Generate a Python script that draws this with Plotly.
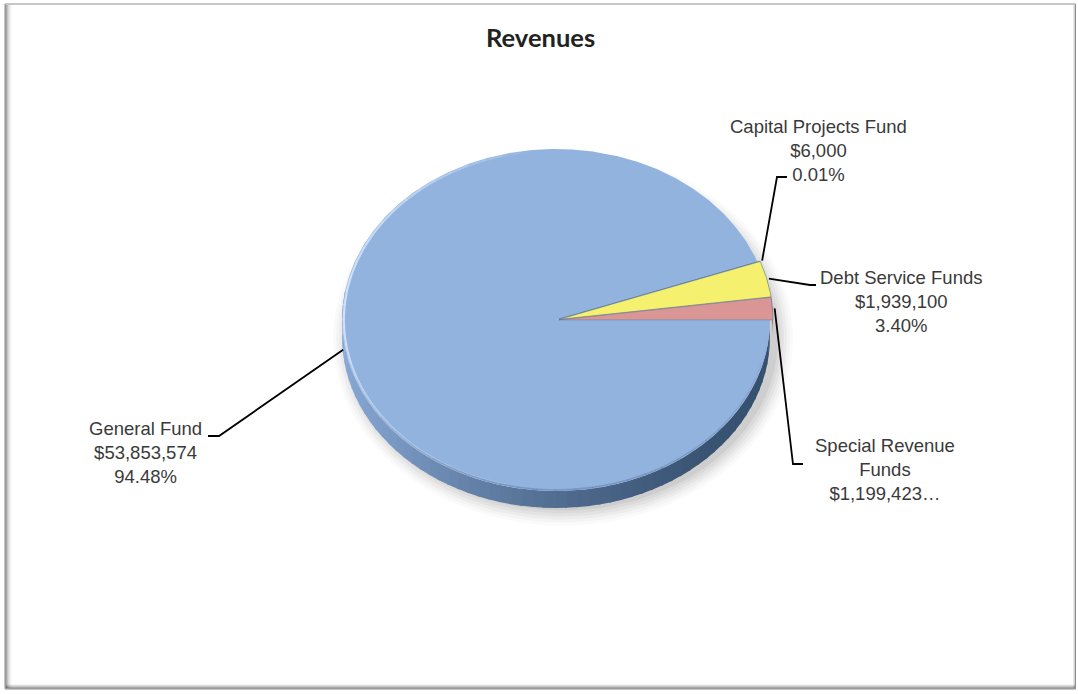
import numpy as np
import plotly.graph_objects as go

# ---- data -------------------------------------------------------------
categories = ["General Fund", "Capital Projects Fund", "Debt Service Funds", "Special Revenue Funds"]
values = [53853574, 6000, 1939100, 1199423]
label_names = ["General Fund", "Capital Projects Fund", "Debt Service Funds", "Special Revenue<br>Funds"]
truncated_labels = [False, False, False, True]
chart_title = "Revenues"

# ---- styling ----------------------------------------------------------
W, H = 1078, 694
CX, CY, RX, RY, DEPTH = 556, 320, 214, 171, 17      # tilted pie geometry (px)
face_colors = ["#93B3DF", "#C3D69B", "#F5F06E", "#DA9694"]
side_colors = [None, "#8FA35E", "#B8B040", "#A65F5D"]
pulls = [0, 3, 3, 3]
LABEL_FONT = dict(family="Liberation Sans, Arial, sans-serif", size=18.5, color="#3A3A3A")

# label placement: (elbow, line end, text centre)
label_layout = [
    ((219, 436), (208, 436), (145, 452)),
    ((777, 177), (787, 177), (818, 150)),
    ((810, 285), (816, 285), (901, 301)),
    ((793, 464), (803, 464), (885, 469)),
]

# ---- slice angles (clockwise from 3 o'clock) --------------------------
vals = np.array(values, dtype=float)
total = vals.sum()
fracs = vals / total
ends = np.cumsum(fracs) * 360.0
starts = ends - fracs * 360.0
# keep the small slices just above 3 o'clock as negative angles
starts = np.where(np.arange(len(vals)) > 0, starts - 360.0, starts)
ends = np.where(np.arange(len(vals)) > 0, ends - 360.0, ends)


def pt(theta_deg, ox=0.0, oy=0.0, scale=1.0, drop=0.0):
    t = np.radians(theta_deg)
    return CX + ox + scale * RX * np.cos(t), CY + oy + scale * RY * np.sin(t) + drop


def offset(i):
    mid = np.radians((starts[i] + ends[i]) / 2)
    return pulls[i] * np.cos(mid), pulls[i] * np.sin(mid) * RY / RX


def lerp_color(c1, c2, f):
    a = [int(c1[k:k + 2], 16) for k in (1, 3, 5)]
    b = [int(c2[k:k + 2], 16) for k in (1, 3, 5)]
    return "rgb(%d,%d,%d)" % tuple(round(a[j] + (b[j] - a[j]) * f) for j in range(3))


fig = go.Figure()

# soft drop shadow under the pie
for k, a in enumerate([0.02, 0.025, 0.03, 0.035, 0.04, 0.05]):
    grow = 16 - 3 * k
    th = np.linspace(0, 360, 181)
    xs = CX + 7 + (RX + grow) * np.cos(np.radians(th))
    ys = CY + 10 + (RY + grow) * np.sin(np.radians(th)) + DEPTH / 2
    fig.add_trace(go.Scatter(x=xs, y=ys, fill="toself", mode="lines", line=dict(width=0),
                             fillcolor="rgba(0,0,0,%.3f)" % a, hoverinfo="skip", showlegend=False))

# rim (side wall) of the tilted pie, visible front half only
vis_lo, vis_hi = -20.0, 190.0
for i in range(len(vals)):
    lo, hi = max(starts[i], vis_lo), min(ends[i], vis_hi)
    if hi <= lo:
        continue
    ox, oy = offset(i)
    edges = np.arange(lo, hi, 3.0)
    edges = np.append(edges, hi)
    for a0, a1 in zip(edges[:-1], edges[1:]):
        th = np.linspace(a0, a1 + (0.6 if a1 < hi else 0), 6)
        tx, ty = pt(th, ox, oy)
        bx, by = pt(th[::-1], ox, oy, drop=DEPTH)
        if i == 0:
            m = np.radians((a0 + a1) / 2)
            f = ((1 - np.cos(m)) / 2) ** 1.6
            col = lerp_color("#36506F", "#88A8D5", f)
        else:
            col = side_colors[i]
        fig.add_trace(go.Scatter(x=np.r_[tx, bx], y=np.r_[ty, by], fill="toself", mode="lines",
                                 line=dict(width=0), fillcolor=col,
                                 hoverinfo="skip", showlegend=False))

# top faces of the slices
for i in range(len(vals)):
    ox, oy = offset(i)
    n = max(4, int((ends[i] - starts[i]) * 2))
    th = np.linspace(starts[i], ends[i], n)
    ax, ay = pt(th, ox, oy)
    xs = np.r_[CX + ox, ax, CX + ox]
    ys = np.r_[CY + oy, ay, CY + oy]
    fig.add_trace(go.Scatter(x=xs, y=ys, fill="toself", mode="lines",
                             line=dict(width=0.8 if i else 0, color="rgba(90,115,150,0.7)"),
                             fillcolor=face_colors[i], name=categories[i],
                             hoverinfo="skip", showlegend=False))

# bevel highlight along the left edge, fading out at both ends
seg = np.linspace(95, 265, 35)
for a0, a1 in zip(seg[:-1], seg[1:]):
    th = np.linspace(a0, a1 + 0.3, 4)
    hx, hy = pt(th, scale=0.992)
    w = np.sin(np.pi * ((a0 + a1) / 2 - 95) / 170)
    fig.add_trace(go.Scatter(x=hx, y=hy, mode="lines",
                             line=dict(width=2.2, color="rgba(215,230,250,%.2f)" % (0.9 * w)),
                             hoverinfo="skip", showlegend=False))
seg = np.linspace(5, 175, 35)
for a0, a1 in zip(seg[:-1], seg[1:]):
    th = np.linspace(a0, a1 + 0.3, 4)
    hx, hy = pt(th, scale=0.994)
    w = np.sin(np.pi * ((a0 + a1) / 2 - 5) / 170)
    fig.add_trace(go.Scatter(x=hx, y=hy, mode="lines",
                             line=dict(width=1.6, color="rgba(100,130,175,%.2f)" % (0.6 * w)),
                             hoverinfo="skip", showlegend=False))

# leader lines and data labels
for i in range(len(vals)):
    ox, oy = offset(i)
    mid = (starts[i] + ends[i]) / 2
    axp, ayp = pt(mid, ox, oy, scale=1.01)
    (ex, ey), (lx, ly), (tx, ty) = label_layout[i]
    fig.add_trace(go.Scatter(x=[axp, ex, lx], y=[ayp, ey, ly], mode="lines",
                             line=dict(color="#000000", width=1.8),
                             hoverinfo="skip", showlegend=False))
    pct = fracs[i] * 100
    if truncated_labels[i]:
        txt = f"{label_names[i]}<br>${values[i]:,}…"
    else:
        txt = f"{label_names[i]}<br>${values[i]:,}<br>{pct:.2f}%"
    fig.add_annotation(x=tx, y=ty, text=txt, showarrow=False, xanchor="center", yanchor="middle",
                       align="center", font=LABEL_FONT)

fig.add_annotation(x=540, y=37, text=f"<b>{chart_title}</b>", showarrow=False,
                   xanchor="center", yanchor="middle",
                   font=dict(family="Lato, Carlito, sans-serif", size=25.5, color="#222222"))

# chart frame with a soft inner shadow on the left and bottom
shapes = [dict(type="rect", xref="x", yref="y", x0=5, y0=4, x1=1075.5, y1=689,
               line=dict(color="#8E8E8E", width=1), fillcolor="rgba(0,0,0,0)")]
for k, a in enumerate([0.45, 0.3, 0.2, 0.12, 0.07, 0.03]):
    shapes.append(dict(type="line", xref="x", yref="y", x0=6 + k, x1=6 + k, y0=5, y1=688,
                       line=dict(color="rgba(0,0,0,%.2f)" % a, width=1)))
for k, a in enumerate([0.45, 0.3, 0.18, 0.08]):
    shapes.append(dict(type="line", xref="x", yref="y", x0=6, x1=1075, y0=688 - k, y1=688 - k,
                       line=dict(color="rgba(0,0,0,%.2f)" % a, width=1)))
for k, a in enumerate([0.18, 0.08]):
    shapes.append(dict(type="line", xref="x", yref="y", x0=1074.5 - k, x1=1074.5 - k, y0=5, y1=688,
                       line=dict(color="rgba(0,0,0,%.2f)" % a, width=1)))

fig.update_layout(
    width=W, height=H, autosize=False,
    margin=dict(l=0, r=0, t=0, b=0),
    paper_bgcolor="white", plot_bgcolor="white",
    xaxis=dict(range=[0, W], visible=False, fixedrange=True),
    yaxis=dict(range=[H, 0], visible=False, fixedrange=True),
    shapes=shapes,
    showlegend=False,
)

fig.write_html("out.html")
